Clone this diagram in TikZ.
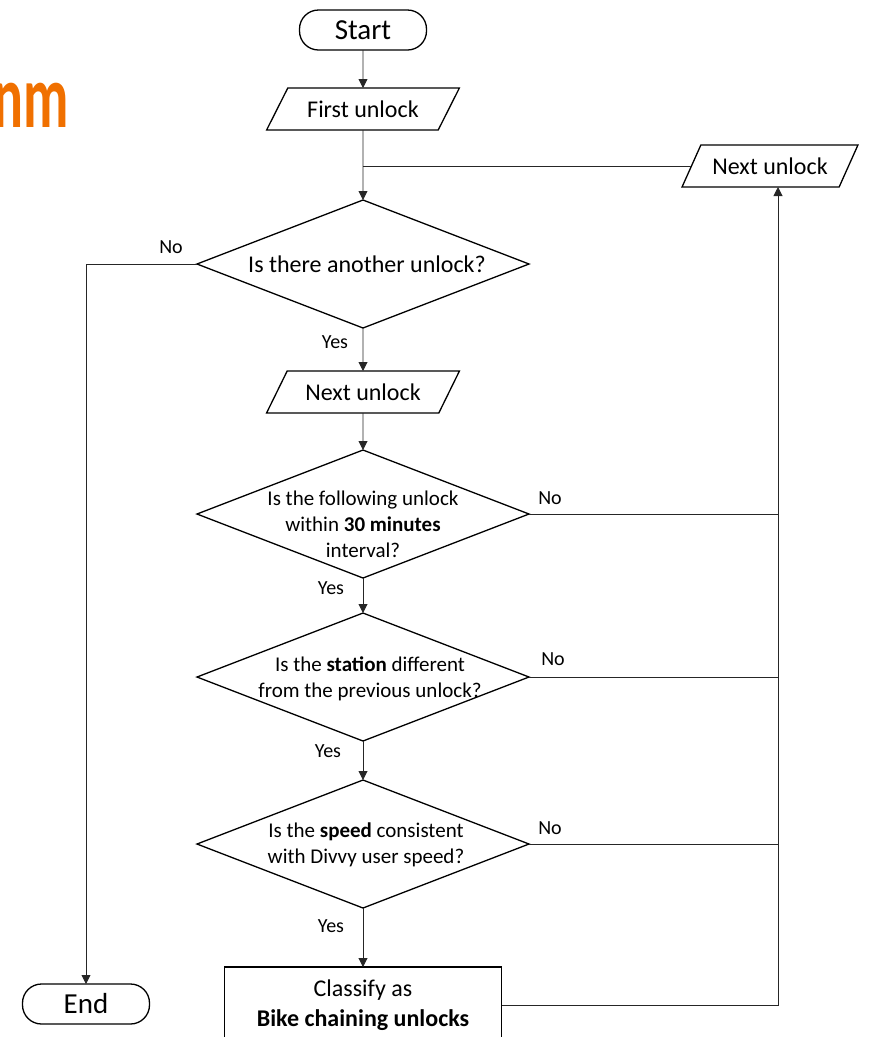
\documentclass[tikz,border=0pt]{standalone}
\usepackage{fontspec}
\setmainfont{Carlito}
\usetikzlibrary{arrows.meta, positioning, shapes.geometric}
\definecolor{titleorange}{RGB}{240,112,0}

\begin{document}
\begin{tikzpicture}[x=1pt, y=-1pt, >={Triangle[length=9pt, width=9pt]},
    terminal/.style={draw, line width=1.3pt, rounded corners=19pt,
      minimum width=127pt, minimum height=40pt, inner sep=0pt, outer sep=0pt,
      font=\fontsize{29}{32}\selectfont},
    io/.style={draw, line width=1.3pt, trapezium, trapezium left angle=47,
      trapezium right angle=133, trapezium stretches=true,
      minimum width=193pt, minimum height=42pt, inner sep=0pt, outer sep=0pt,
      font=\fontsize{24}{28}\selectfont},
    decision/.style={draw, line width=1.3pt, diamond, outer sep=0pt,
      minimum width=332pt, minimum height=128pt, inner sep=0pt},
    question/.style={align=center, inner sep=0pt,
      font=\fontsize{21}{26}\selectfont},
    answer/.style={inner sep=0pt, font=\fontsize{20}{24}\selectfont},
    conn/.style={->, line width=0.9pt, black!85},
    link/.style={line width=0.9pt, black!85}]
  \clip (0,0) rectangle (871,1037);

  % heading cut at the left edge
  \node[anchor=base east, inner sep=0pt, text=titleorange,
        font=\fontsize{90}{90}\selectfont\bfseries] (title) at (69,127)
    {\scalebox{0.62}[1]{nm}};

  % main column
  \node[terminal] (start) at (363,30) {Start};
  \node[io, below=38pt of start] (first) {First unlock};
  \node[decision, below=70pt of first] (q1) {};
  \node[question, font=\fontsize{24}{28}\selectfont, xshift=4pt]
    (q1txt) at (q1) {Is there another unlock?};
  \node[io, below=43pt of q1] (next) {Next unlock};
  \node[decision, below=37pt of next] (q2) {};
  \node[question, yshift=-10pt] (q2txt) at (q2)
    {Is the following unlock\\within \textbf{30 minutes}\\interval?};
  \node[decision, below=35pt of q2] (q3) {};
  \node[question, xshift=7pt, yshift=-2pt] (q3txt) at (q3)
    {Is the \textbf{station} different\\from the previous unlock?};
  \node[decision, below=39pt of q3] (q4) {};
  \node[question, xshift=3pt, yshift=-1pt] (q4txt) at (q4)
    {Is the \textbf{speed} consistent\\with Divvy user speed?};
  \node[draw, line width=1.3pt, outer sep=0pt, minimum width=277pt,
        minimum height=76pt, align=center,
        font=\fontsize{24}{30}\selectfont, below=59pt of q4] (chain)
    {Classify as\\\textbf{Bike chaining unlocks}};

  % loop back and exit
  \node[io, minimum width=176pt] (loop) at (770,166) {Next unlock};
  \node[terminal] (end) at (86,1004) {End};
  \coordinate (rail) at ([xshift=8pt]loop.south);

  % answers
  \node[answer] (no1) at (171,247) {No};
  \node[answer] (yes1) at (335,342) {Yes};
  \node[answer] (no2) at (550,498) {No};
  \node[answer] (yes2) at (331,588) {Yes};
  \node[answer] (no3) at (553,659) {No};
  \node[answer] (yes3) at (328,751) {Yes};
  \node[answer] (no4) at (550,828) {No};
  \node[answer] (yes4) at (331,926) {Yes};

  \draw[conn] (start) -- (first);
  \draw[conn] (first) -- (q1);
  \draw[link] (loop.west) -- (loop.west -| first.south);
  \draw[conn] (q1.west) -| (end.north);
  \draw[conn] (q1) -- (next);
  \draw[conn] (next) -- (q2);
  \draw[conn] (q2) -- (q3);
  \draw[conn] (q3) -- (q4);
  \draw[conn] (q4) -- (chain);
  \draw[link] (q2.east) -- (q2.east -| rail);
  \draw[link] (q3.east) -- (q3.east -| rail);
  \draw[link] (q4.east) -- (q4.east -| rail);
  \draw[conn] (chain.east) -| (rail);
\end{tikzpicture}
\end{document}
